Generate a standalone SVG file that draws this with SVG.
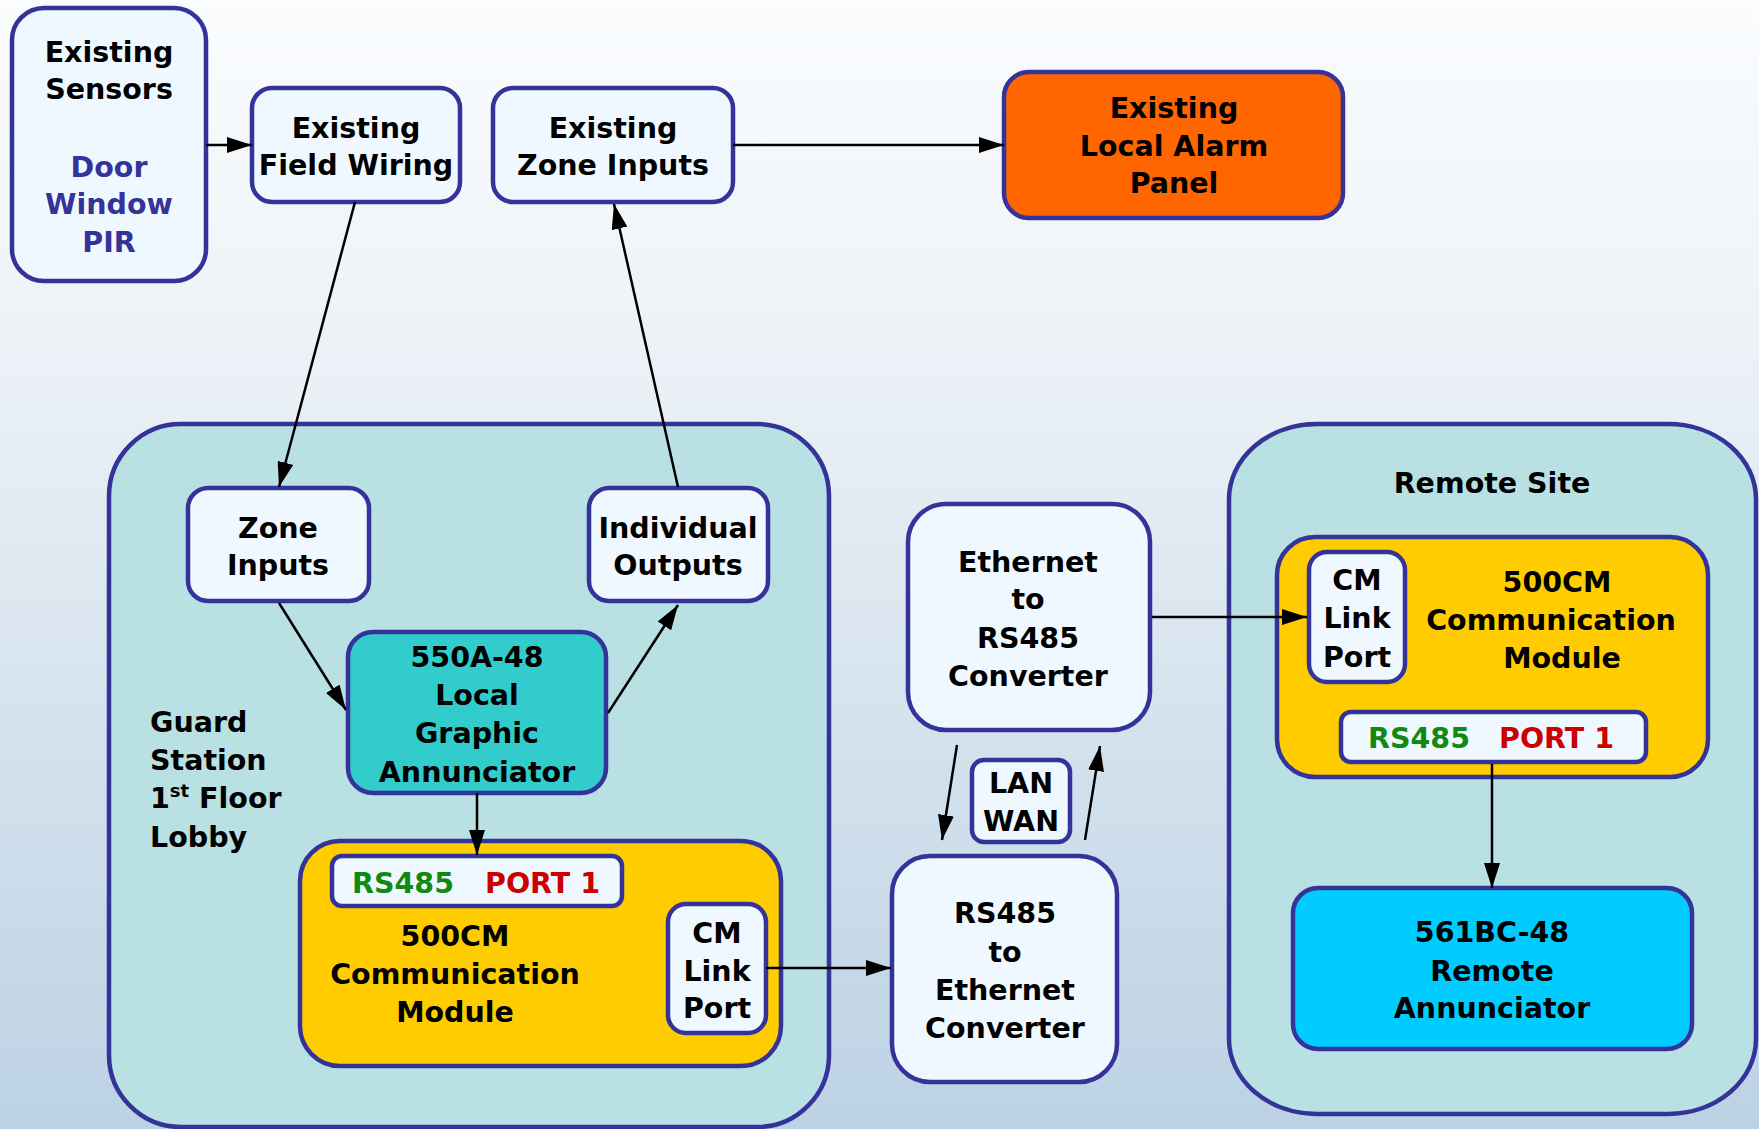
<svg xmlns="http://www.w3.org/2000/svg" width="1759" height="1129" viewBox="0 0 1759 1129">
  <defs>
    <linearGradient id="bg" x1="0" y1="0" x2="0" y2="1">
      <stop offset="0" stop-color="#FAFCFE"/>
      <stop offset="0.25" stop-color="#F0F4F8"/>
      <stop offset="1" stop-color="#BCD2E4"/>
    </linearGradient>
    <marker id="arrow" markerUnits="userSpaceOnUse" markerWidth="25" markerHeight="16" refX="25" refY="8" orient="auto">
      <path d="M0,0 L25,8 L0,16 z" fill="#000"/>
    </marker>
    <style>
      .box { stroke: #333399; stroke-width: 4.5; }
      .white { fill: #F0F8FF; }
      .area { fill: #B9E0E3; }
      .yellow { fill: #FFCC00; }
      text { font-family: "DejaVu Sans", "Liberation Sans", sans-serif; font-weight: bold; font-size: 28.5px; fill: #000; }
      .c { text-anchor: middle; }
      .blue { fill: #333399; }
      .green { fill: #108A10; }
      .red { fill: #CC0000; }
      .conn { stroke: #000; stroke-width: 2.5; fill: none; marker-end: url(#arrow); }
    </style>
  </defs>

  <rect x="0" y="0" width="1759" height="1129" fill="url(#bg)"/>

  <!-- site areas -->
  <g id="guard-station">
    <rect class="box area" x="109" y="424" width="720" height="703" rx="72" ry="72"/>
    <text x="150" y="732">Guard</text>
    <text x="150" y="770">Station</text>
    <text x="150" y="808">1<tspan font-size="18" dy="-11">st</tspan><tspan dy="11"> Floor</tspan></text>
    <text x="150" y="847">Lobby</text>
  </g>
  <g id="remote-site">
    <rect class="box area" x="1229" y="424" width="527" height="690" rx="88" ry="75"/>
    <text class="c" x="1492" y="493">Remote Site</text>
  </g>

  <!-- nodes -->
  <g id="existing-sensors">
    <rect class="box white" x="12" y="8" width="194" height="273" rx="32"/>
    <text class="c" x="109" y="62">Existing</text>
    <text class="c" x="109" y="99">Sensors</text>
    <text class="c blue" x="109" y="177">Door</text>
    <text class="c blue" x="109" y="214">Window</text>
    <text class="c blue" x="109" y="252">PIR</text>
  </g>
  <g id="existing-field-wiring">
    <rect class="box white" x="252" y="88" width="208" height="114" rx="20"/>
    <text class="c" x="356" y="138">Existing</text>
    <text class="c" x="356" y="175">Field Wiring</text>
  </g>
  <g id="existing-zone-inputs">
    <rect class="box white" x="493" y="88" width="240" height="114" rx="20"/>
    <text class="c" x="613" y="138">Existing</text>
    <text class="c" x="613" y="175">Zone Inputs</text>
  </g>
  <g id="local-alarm-panel">
    <rect class="box" fill="#FF6600" x="1004" y="72" width="339" height="146" rx="25"/>
    <text class="c" x="1174" y="118">Existing</text>
    <text class="c" x="1174" y="156">Local Alarm</text>
    <text class="c" x="1174" y="193">Panel</text>
  </g>
  <g id="zone-inputs">
    <rect class="box white" x="188" y="488" width="181" height="113" rx="20"/>
    <text class="c" x="278" y="538">Zone</text>
    <text class="c" x="278" y="575">Inputs</text>
  </g>
  <g id="individual-outputs">
    <rect class="box white" x="589" y="488" width="179" height="113" rx="20"/>
    <text class="c" x="678" y="538">Individual</text>
    <text class="c" x="678" y="575">Outputs</text>
  </g>
  <g id="local-annunciator">
    <rect class="box" fill="#33CCCC" x="348" y="632" width="258" height="161" rx="25"/>
    <text class="c" x="477" y="667">550A-48</text>
    <text class="c" x="477" y="705">Local</text>
    <text class="c" x="477" y="743">Graphic</text>
    <text class="c" x="477" y="782">Annunciator</text>
  </g>
  <g id="guard-500cm">
    <rect class="box yellow" x="300" y="841" width="481" height="225" rx="40"/>
    <rect class="box white" x="332" y="856" width="290" height="50" rx="10"/>
    <text x="352" y="893"><tspan class="green">RS485</tspan><tspan class="red" x="485">PORT 1</tspan></text>
    <text class="c" x="455" y="946">500CM</text>
    <text class="c" x="455" y="984">Communication</text>
    <text class="c" x="455" y="1022">Module</text>
    <rect class="box white" x="668" y="904" width="98" height="129" rx="18"/>
    <text class="c" x="717" y="943">CM</text>
    <text class="c" x="717" y="981">Link</text>
    <text class="c" x="717" y="1018">Port</text>
  </g>
  <g id="rs485-to-ethernet">
    <rect class="box white" x="892" y="856" width="225" height="226" rx="38"/>
    <text class="c" x="1005" y="923">RS485</text>
    <text class="c" x="1005" y="962">to</text>
    <text class="c" x="1005" y="1000">Ethernet</text>
    <text class="c" x="1005" y="1038">Converter</text>
  </g>
  <g id="ethernet-to-rs485">
    <rect class="box white" x="908" y="504" width="242" height="226" rx="38"/>
    <text class="c" x="1028" y="572">Ethernet</text>
    <text class="c" x="1028" y="609">to</text>
    <text class="c" x="1028" y="648">RS485</text>
    <text class="c" x="1028" y="686">Converter</text>
  </g>
  <g id="lan-wan">
    <rect class="box white" x="972" y="760" width="98" height="82" rx="12"/>
    <text class="c" x="1021" y="793">LAN</text>
    <text class="c" x="1021" y="831">WAN</text>
  </g>
  <g id="remote-500cm">
    <rect class="box yellow" x="1277" y="537" width="431" height="240" rx="38"/>
    <rect class="box white" x="1309" y="552" width="96" height="130" rx="18"/>
    <text class="c" x="1357" y="590">CM</text>
    <text class="c" x="1357" y="628">Link</text>
    <text class="c" x="1357" y="667">Port</text>
    <text class="c" x="1557" y="592">500CM</text>
    <text class="c" x="1551" y="630">Communication</text>
    <text class="c" x="1562" y="668">Module</text>
    <rect class="box white" x="1341" y="712" width="305" height="50" rx="10"/>
    <text x="1368" y="748"><tspan class="green">RS485</tspan><tspan class="red" x="1499">PORT 1</tspan></text>
  </g>
  <g id="remote-annunciator">
    <rect class="box" fill="#00CCFF" x="1293" y="888" width="399" height="161" rx="25"/>
    <text class="c" x="1492" y="942">561BC-48</text>
    <text class="c" x="1492" y="981">Remote</text>
    <text class="c" x="1492" y="1018">Annunciator</text>
  </g>

  <!-- connectors, drawn last so they show across the module boxes -->
  <g id="connectors">
    <line class="conn" x1="206" y1="145" x2="252" y2="145"/>
    <line class="conn" x1="733" y1="145" x2="1004" y2="145"/>
    <line class="conn" x1="355" y1="202" x2="279" y2="487"/>
    <line class="conn" x1="678" y1="487" x2="614" y2="204"/>
    <line class="conn" x1="279" y1="603" x2="346" y2="710"/>
    <line class="conn" x1="608" y1="713" x2="678" y2="605"/>
    <line class="conn" x1="477" y1="793" x2="477" y2="855"/>
    <line class="conn" x1="766" y1="968" x2="891" y2="968"/>
    <line class="conn" x1="957" y1="745" x2="942" y2="840"/>
    <line class="conn" x1="1085" y1="840" x2="1100" y2="746"/>
    <line class="conn" x1="1152" y1="617" x2="1307" y2="617"/>
    <line class="conn" x1="1492" y1="764" x2="1492" y2="888"/>
  </g>
</svg>
